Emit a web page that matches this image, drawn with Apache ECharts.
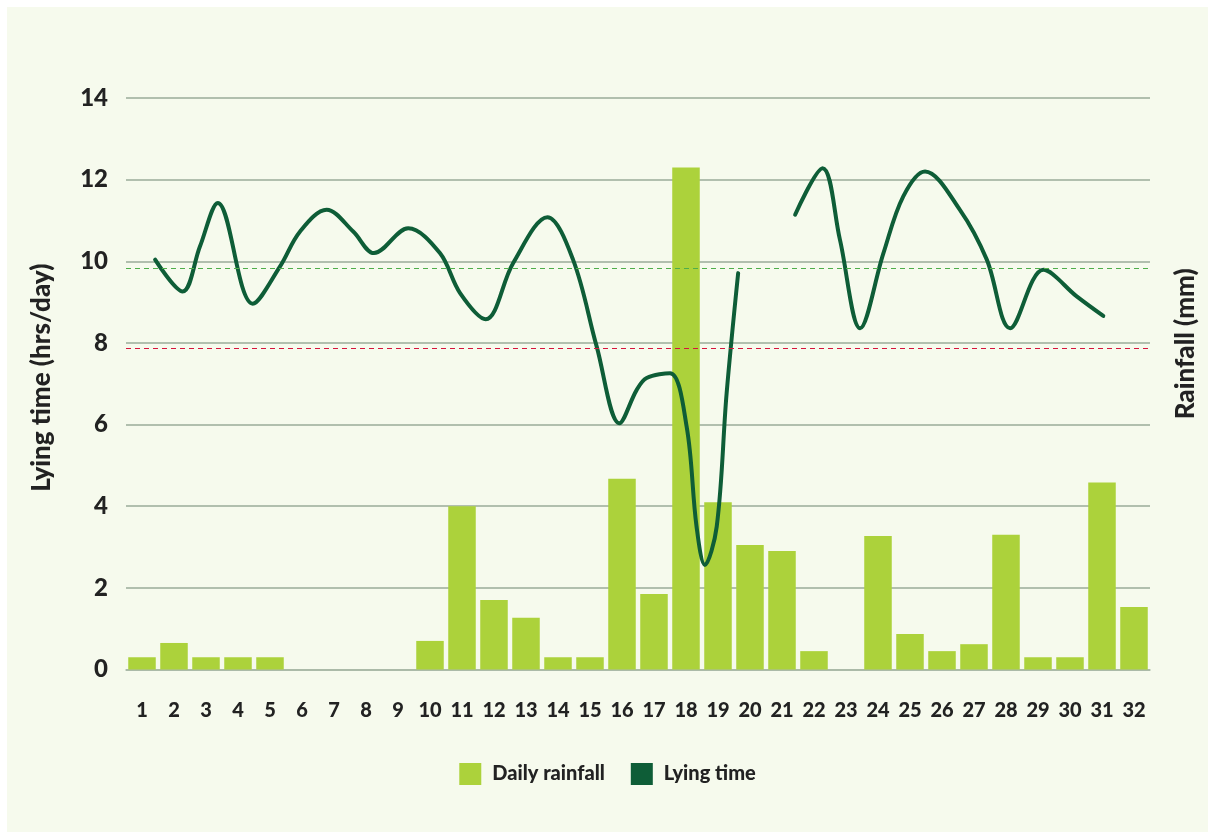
<!DOCTYPE html>
<html>
<head>
<meta charset="utf-8">
<script src="https://cdn.jsdelivr.net/npm/echarts@6/dist/echarts.min.js"></script>
<style>
  html, body { margin: 0; padding: 0; background: #ffffff; }
  #wrap { position: absolute; left: 0; top: 0; width: 1208px; height: 832px; background: #ffffff; }
  #chart { position: absolute; left: 7px; top: 7px; width: 1201px; height: 825px; background: #f6faed; }
</style>
</head>
<body>
<div id="wrap"><div id="chart"></div></div>
<script>
const days = ['1','2','3','4','5','6','7','8','9','10','11','12','13','14','15','16','17','18','19','20','21','22','23','24','25','26','27','28','29','30','31','32'];
const rainfall = [0.3,0.65,0.3,0.3,0.3,0,0,0,0,0.7,4.0,1.7,1.27,0.3,0.3,4.67,1.85,12.3,4.1,3.05,2.9,0.45,0,3.27,0.87,0.45,0.62,3.3,0.3,0.3,4.58,1.53];
const lyingDayA = [1.41,2.27,2.81,3.37,4.46,5.31,5.94,6.77,7.6,8.25,9.32,10.31,10.94,11.74,12.6,13.67,14.47,15.21,15.92,16.46,16.77,17.5,18.02,18.33,18.59,18.96,19.27,19.63];
const lyingHoursA = [10.04,9.26,10.36,11.43,8.96,9.87,10.73,11.26,10.73,10.2,10.81,10.2,9.22,8.58,9.96,11.08,10.04,7.91,6.03,6.85,7.14,7.26,5.95,3.5,2.56,3.5,6.77,9.71];
const lyingDayB = [21.41,22.27,22.81,23.44,24.17,24.79,25.47,26.56,27.4,28.13,29.17,30.21,31.04];
const lyingHoursB = [11.14,12.28,10.53,8.36,10.2,11.59,12.2,11.26,10.04,8.36,9.79,9.14,8.66];
const yTicks = [0,2,4,6,8,10,12,14];
const targetHigh = 9.82;
const targetLow = 7.87;

const pairs = (xs, ys) => xs.map((x, i) => [x, ys[i]]);
const font = 'Lato, "Noto Sans", sans-serif';
const lineColor = '#0e5d37';
const barColor = '#acd23b';
const W = 900;

const chart = echarts.init(document.getElementById('chart'), null, { renderer: 'canvas' });
chart.setOption({
  backgroundColor: '#f6faed',
  animation: false,
  textStyle: { fontFamily: font },
  grid: { left: 119, right: 58, top: 91, bottom: 162.5, containLabel: false },
  legend: {
    left: 'center', top: 751,
    itemWidth: 22, itemHeight: 22, itemGap: 26,
    textStyle: { fontFamily: font, fontWeight: W, fontSize: 20, color: '#222', padding: [0, 0, 0, 6] },
    data: [
      { name: 'Daily rainfall', icon: 'rect', itemStyle: { color: barColor } },
      { name: 'Lying time', icon: 'rect', itemStyle: { color: lineColor } }
    ]
  },
  xAxis: [
    {
      type: 'category', data: days, boundaryGap: true,
      axisLine: { show: true, lineStyle: { color: '#a9b9a6', width: 1.5 } },
      axisTick: { show: false },
      axisLabel: { color: '#222', fontWeight: W, fontSize: 20, margin: 31, fontFamily: font, interval: 0 },
      splitLine: { show: false }
    },
    { type: 'value', min: 0.5, max: 32.5, show: false }
  ],
  yAxis: [
    {
      type: 'value', min: 0, max: 14, interval: 2,
      name: 'Lying time (hrs/day)', nameLocation: 'middle', nameRotate: 90, nameGap: 71,
      nameTextStyle: { fontFamily: font, fontWeight: W, fontSize: 26, color: '#222', padding: [0, 0, 0, 12] },
      axisLine: { show: false }, axisTick: { show: false },
      axisLabel: { color: '#222', fontWeight: W, fontSize: 24, margin: 18, fontFamily: font },
      splitLine: { show: true, lineStyle: { color: '#9aab98', width: 1.5 } }
    },
    {
      type: 'value', min: 0, max: 14, interval: 2, position: 'right',
      name: 'Rainfall (mm)', nameLocation: 'middle', nameRotate: 90, nameGap: 23,
      nameTextStyle: { fontFamily: font, fontWeight: W, fontSize: 26, color: '#222', padding: [0, 0, 0, 80] },
      axisLine: { show: false }, axisTick: { show: false }, axisLabel: { show: false },
      splitLine: { show: false }
    }
  ],
  series: [
    {
      name: 'Daily rainfall', type: 'bar', xAxisIndex: 0, yAxisIndex: 1,
      data: rainfall, barCategoryGap: '14%',
      itemStyle: { color: barColor }, z: 2
    },
    {
      name: 'Lying time', type: 'line', xAxisIndex: 1, yAxisIndex: 0,
      data: pairs(lyingDayA, lyingHoursA), smooth: 0.35, showSymbol: false, symbol: 'none',
      lineStyle: { color: lineColor, width: 4, cap: 'round' }, itemStyle: { color: lineColor }, z: 4,
      markLine: {
        silent: true, symbol: 'none', label: { show: false },
        data: [
          { yAxis: targetHigh, lineStyle: { color: '#4fae4a', type: [5, 4], width: 1.2 } },
          { yAxis: targetLow, lineStyle: { color: '#d6143c', type: [5, 4], width: 1.2 } }
        ]
      }
    },
    {
      name: 'Lying time', type: 'line', xAxisIndex: 1, yAxisIndex: 0,
      data: pairs(lyingDayB, lyingHoursB), smooth: 0.35, showSymbol: false, symbol: 'none',
      lineStyle: { color: lineColor, width: 4, cap: 'round' }, itemStyle: { color: lineColor }, z: 4
    }
  ]
});
</script>
</body>
</html>
